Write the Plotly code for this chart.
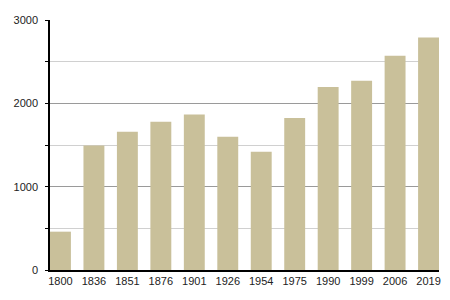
import plotly.graph_objects as go

years = ["1800", "1836", "1851", "1876", "1901", "1926", "1954", "1975", "1990", "1999", "2006", "2019"]
values = [460, 1495, 1660, 1780, 1865, 1600, 1420, 1825, 2195, 2270, 2570, 2790]

fig = go.Figure(go.Bar(x=years, y=values, marker=dict(color="#c9c09a", line=dict(width=0))))

w = 0.625
fig.update_layout(
    width=450, height=300,
    margin=dict(l=50, r=9, t=20, b=30),
    paper_bgcolor="white", plot_bgcolor="white",
    bargap=1 - w,
    showlegend=False,
    font=dict(family="Liberation Sans, Arial, sans-serif", size=11, color="#222"),
)
fig.update_xaxes(
    type="category", range=[-w / 2, len(years) - 1 + w / 2],
    showline=True, linecolor="black", linewidth=1.5,
    ticks="", showgrid=False, tickfont=dict(size=11),
)
fig.update_yaxes(
    range=[0, 3000], dtick=1000, tick0=0,
    showline=True, linecolor="black", linewidth=1.5,
    ticks="outside", ticklen=3, tickcolor="black",
    ticklabelstandoff=5,
    showgrid=True, gridcolor="#9a9a9a", gridwidth=1,
    zeroline=False,
    minor=dict(dtick=500, showgrid=True, gridcolor="#d0d0d0", ticks="outside", ticklen=3, tickcolor="black"),
    tickfont=dict(size=11),
)
fig.write_html("out.html")
